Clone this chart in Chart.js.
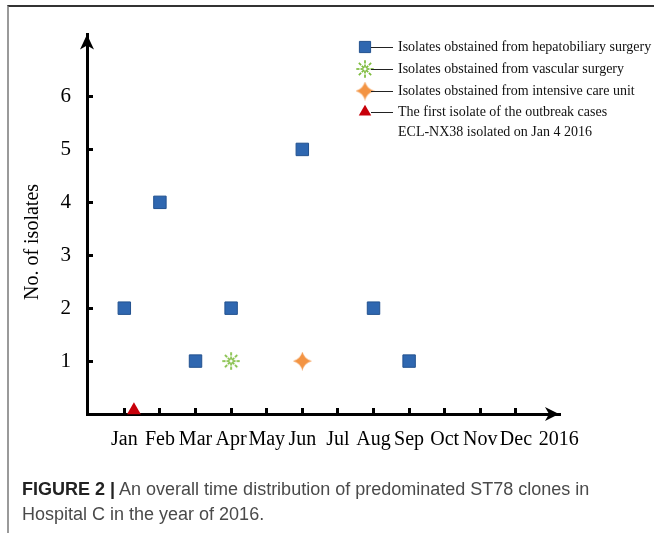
<!DOCTYPE html>
<html>
<head>
<meta charset="utf-8">
<script src="https://cdn.jsdelivr.net/npm/chart.js@4/dist/chart.umd.min.js"></script>
<style>
  body { margin: 0; background: #fff; width: 654px; height: 533px; overflow: hidden; position: relative; }
  #frame { position: absolute; left: 7px; top: 5px; width: 700px; height: 600px;
           border-top: 2px solid #333; border-left: 2px solid #9a9a9a; }
  #chart { position: absolute; left: 0; top: 0; }
  #caption { position: absolute; left: 22px; top: 477px; font: 18px "Liberation Sans", Arial, sans-serif;
             line-height: 25px; color: #4a4a4a; white-space: nowrap; }
  #caption b { color: #222; }
</style>
</head>
<body>
<div id="frame"></div>
<canvas id="chart" width="654" height="533"></canvas>
<div id="caption"><b>FIGURE 2 |</b> An overall time distribution of predominated ST78 clones in<br>Hospital C in the year of 2016.</div>
<script>
// month index 1 = Jan ... 12 = Dec
const monthLabels = ['Jan','Feb','Mar','Apr','May','Jun','Jul','Aug','Sep','Oct','Nov','Dec'];
const yearLabel = '2016';
const yearLabelPos = 13.2;
const yTickValues = [1, 2, 3, 4, 5, 6];

const hepatoMonths = [1, 2, 3, 4, 6, 8, 9];
const hepatoCounts = [2, 4, 1, 2, 5, 2, 1];
const vascularMonths = [4];
const vascularCounts = [1];
const icuMonths = [6];
const icuCounts = [1];
const firstMonths = [1.27];   // ECL-NX38, Jan 4 2016
const firstCounts = [0.07];

const seriesLabels = [
  ['Isolates obstained from hepatobiliary surgery'],
  ['Isolates obstained from vascular surgery'],
  ['Isolates obstained from intensive care unit'],
  ['The first isolate of the outbreak cases', 'ECL-NX38 isolated on Jan 4 2016']
];

const SERIF = '"Liberation Serif", "Times New Roman", serif';

function pts(xs, ys) { return xs.map((x, i) => ({ x: x, y: ys[i] })); }

// orange four point star
function makeSparkle(size, color) {
  const c = document.createElement('canvas');
  c.width = size; c.height = size;
  const g = c.getContext('2d');
  const m = size / 2, k = size * 0.1;
  g.fillStyle = color;
  g.beginPath();
  g.moveTo(m, 0);
  g.quadraticCurveTo(m + k, m - k, size, m);
  g.quadraticCurveTo(m + k, m + k, m, size);
  g.quadraticCurveTo(m - k, m + k, 0, m);
  g.quadraticCurveTo(m - k, m - k, m, 0);
  g.fill();
  return c;
}

// green dashed asterisk
function makeBurst(size, color) {
  const c = document.createElement('canvas');
  c.width = size; c.height = size;
  const g = c.getContext('2d');
  const m = size / 2;
  g.strokeStyle = color; g.lineWidth = 1.7; g.lineCap = 'butt';
  for (let a = 0; a < 8; a++) {
    const t = a * Math.PI / 4, cs = Math.cos(t), sn = Math.sin(t);
    [[1.5, 4.5], [5.5, m - 0.3]].forEach(s => {
      g.beginPath();
      g.moveTo(m + cs * s[0], m + sn * s[0]);
      g.lineTo(m + cs * s[1], m + sn * s[1]);
      g.stroke();
    });
  }
  return c;
}

const sparkle = makeSparkle(19, '#f39443');
const burst = makeBurst(18, '#7dbb3c');

const datasets = [
  { label: seriesLabels[0], data: pts(hepatoMonths, hepatoCounts), pointStyle: 'rect', pointRadius: 8.8,
    backgroundColor: '#2f67b0', borderColor: '#23528f', borderWidth: 1 },
  { label: seriesLabels[1], data: pts(vascularMonths, vascularCounts), pointStyle: burst, pointRadius: 8,
    backgroundColor: '#7dbb3c', borderColor: '#7dbb3c', borderWidth: 0 },
  { label: seriesLabels[2], data: pts(icuMonths, icuCounts), pointStyle: sparkle, pointRadius: 9,
    backgroundColor: '#f39443', borderColor: '#f39443', borderWidth: 0 },
  { label: seriesLabels[3], data: pts(firstMonths, firstCounts), pointStyle: 'triangle', pointRadius: 8,
    backgroundColor: '#c8000a', borderColor: '#c8000a', borderWidth: 0 }
];
datasets.forEach(d => { d.clip = false; d.pointHoverRadius = d.pointRadius; });

// legend, arrows and axis title
const decor = {
  id: 'decor',
  afterDraw(chart) {
    const ctx = chart.ctx, a = chart.chartArea;
    ctx.save();
    ctx.fillStyle = '#000';
    // arrow heads
    ctx.beginPath();
    ctx.moveTo(a.right, a.bottom);
    ctx.lineTo(a.right - 14, a.bottom - 7);
    ctx.lineTo(a.right - 10, a.bottom);
    ctx.lineTo(a.right - 14, a.bottom + 7);
    ctx.closePath(); ctx.fill();
    ctx.beginPath();
    ctx.moveTo(a.left, a.top);
    ctx.lineTo(a.left - 7, a.top + 15);
    ctx.lineTo(a.left, a.top + 11);
    ctx.lineTo(a.left + 7, a.top + 15);
    ctx.closePath(); ctx.fill();

    // y title
    ctx.font = '20px ' + SERIF;
    ctx.textAlign = 'center'; ctx.textBaseline = 'middle';
    ctx.translate(33, 242);
    ctx.rotate(-Math.PI / 2);
    ctx.fillText('No. of isolates', 0, 0);
    ctx.restore();

    // legend
    ctx.save();
    const rowY = [47, 69, 91, 112];
    ctx.font = '14px ' + SERIF;
    ctx.textBaseline = 'middle'; ctx.textAlign = 'left';
    chart.data.datasets.forEach((ds, i) => {
      const y = rowY[i];
      ctx.fillStyle = ds.backgroundColor; ctx.strokeStyle = ds.borderColor;
      ctx.lineWidth = ds.borderWidth;
      Chart.helpers.drawPoint(ctx, { pointStyle: ds.pointStyle, radius: ds.pointRadius * 0.9, rotation: 0,
        borderWidth: ds.borderWidth }, 365, y);
      ctx.strokeStyle = '#222'; ctx.lineWidth = 1;
      ctx.beginPath(); ctx.moveTo(371, y + 0.5); ctx.lineTo(393, y + 0.5); ctx.stroke();
      ctx.fillStyle = '#111';
      ds.label.forEach((t, j) => ctx.fillText(t, 398, y + j * 20.5));
    });
    ctx.restore();
  }
};

new Chart(document.getElementById('chart'), {
  type: 'scatter',
  data: { datasets: datasets },
  plugins: [decor],
  options: {
    responsive: false,
    animation: false,
    events: [],
    layout: { autoPadding: false, padding: { left: 0, top: 27, right: 654 - 559, bottom: 533 - 460 } },
    plugins: { legend: { display: false }, tooltip: { enabled: false } },
    scales: {
      x: {
        type: 'linear', position: 'bottom', min: -0.048, max: 13.21,
        afterBuildTicks: s => { s.ticks = monthLabels.map((m, i) => ({ value: i + 1 })).concat([{ value: yearLabelPos }]); },
        afterFit: s => { s.height = 46; },
        ticks: {
          autoSkip: false, maxRotation: 0, minRotation: 0, padding: 20, color: '#000',
          font: { family: SERIF, size: 20 },
          callback: (v, i) => i < monthLabels.length ? monthLabels[i] : yearLabel
        },
        grid: {
          drawOnChartArea: false, drawTicks: true, tickLength: -6, lineWidth: 3,
          color: c => (c.index < monthLabels.length ? '#000' : 'rgba(0,0,0,0)')
        },
        border: { display: true, color: '#000', width: 3 }
      },
      y: {
        type: 'linear', position: 'left', min: 0, max: 7.17,
        afterBuildTicks: s => { s.ticks = yTickValues.map(v => ({ value: v })); },
        afterFit: s => { s.width = 87; },
        ticks: { padding: 22, color: '#000', font: { family: SERIF, size: 21 } },
        grid: { drawOnChartArea: false, drawTicks: true, tickLength: -6, lineWidth: 3, color: '#000' },
        border: { display: true, color: '#000', width: 3 }
      }
    }
  }
});
</script>
</body>
</html>
